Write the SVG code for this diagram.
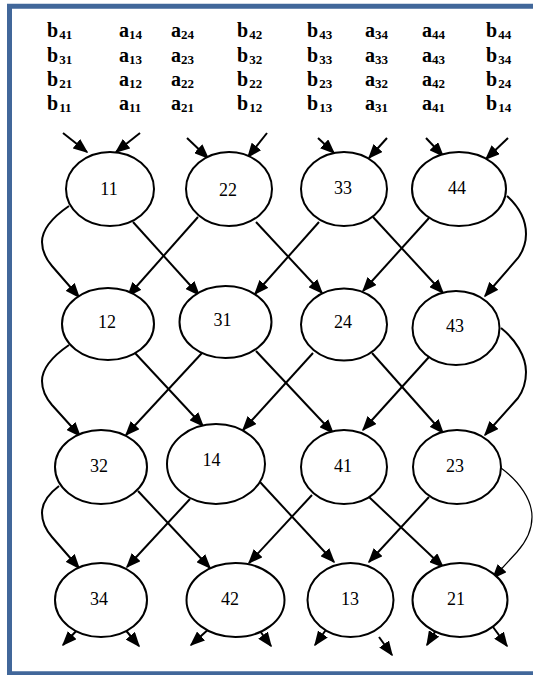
<svg xmlns="http://www.w3.org/2000/svg" width="533" height="675" viewBox="0 0 533 675">
<style>
.frame{fill:none;stroke:#41679a;stroke-width:5}
.lbl{font-weight:bold;font-size:20px;fill:#000}
.sub{font-size:13px}
.node ellipse{fill:#fff;stroke:#000;stroke-width:2}
.node text{font-size:18px;fill:#000;text-anchor:middle}
.edge{fill:none;stroke:#000;stroke-width:2;marker-end:url(#ah)}
.thin{stroke-width:1.2}
</style>
<defs>
<marker id="ah" markerUnits="userSpaceOnUse" markerWidth="15" markerHeight="12" viewBox="0 0 15 12" refX="13.5" refY="6" orient="auto">
<path d="M0,0 L15,6 L0,12 z" fill="#000"/>
</marker>
</defs>
<rect class="frame" x="9.5" y="6.25" width="620" height="667.5"/>
<g id="labels" font-family="'Liberation Serif', 'Times New Roman', Times, 'DejaVu Serif', serif">
<text class="lbl" x="47" y="37">b<tspan class="sub" dx="1" dy="2">41</tspan></text>
<text class="lbl" x="119" y="37">a<tspan class="sub" dy="2">14</tspan></text>
<text class="lbl" x="171" y="37">a<tspan class="sub" dy="2">24</tspan></text>
<text class="lbl" x="237" y="37">b<tspan class="sub" dx="1" dy="2">42</tspan></text>
<text class="lbl" x="307" y="37">b<tspan class="sub" dx="1" dy="2">43</tspan></text>
<text class="lbl" x="365" y="37">a<tspan class="sub" dy="2">34</tspan></text>
<text class="lbl" x="422" y="37">a<tspan class="sub" dy="2">44</tspan></text>
<text class="lbl" x="486" y="37">b<tspan class="sub" dx="1" dy="2">44</tspan></text>

<text class="lbl" x="47" y="62">b<tspan class="sub" dx="1" dy="2">31</tspan></text>
<text class="lbl" x="119" y="62">a<tspan class="sub" dy="2">13</tspan></text>
<text class="lbl" x="171" y="62">a<tspan class="sub" dy="2">23</tspan></text>
<text class="lbl" x="237" y="62">b<tspan class="sub" dx="1" dy="2">32</tspan></text>
<text class="lbl" x="307" y="62">b<tspan class="sub" dx="1" dy="2">33</tspan></text>
<text class="lbl" x="365" y="62">a<tspan class="sub" dy="2">33</tspan></text>
<text class="lbl" x="422" y="62">a<tspan class="sub" dy="2">43</tspan></text>
<text class="lbl" x="486" y="62">b<tspan class="sub" dx="1" dy="2">34</tspan></text>

<text class="lbl" x="47" y="86">b<tspan class="sub" dx="1" dy="2">21</tspan></text>
<text class="lbl" x="119" y="86">a<tspan class="sub" dy="2">12</tspan></text>
<text class="lbl" x="171" y="86">a<tspan class="sub" dy="2">22</tspan></text>
<text class="lbl" x="237" y="86">b<tspan class="sub" dx="1" dy="2">22</tspan></text>
<text class="lbl" x="307" y="86">b<tspan class="sub" dx="1" dy="2">23</tspan></text>
<text class="lbl" x="365" y="86">a<tspan class="sub" dy="2">32</tspan></text>
<text class="lbl" x="422" y="86">a<tspan class="sub" dy="2">42</tspan></text>
<text class="lbl" x="486" y="86">b<tspan class="sub" dx="1" dy="2">24</tspan></text>

<text class="lbl" x="47" y="110">b<tspan class="sub" dx="1" dy="2">11</tspan></text>
<text class="lbl" x="119" y="110">a<tspan class="sub" dy="2">11</tspan></text>
<text class="lbl" x="171" y="110">a<tspan class="sub" dy="2">21</tspan></text>
<text class="lbl" x="237" y="110">b<tspan class="sub" dx="1" dy="2">12</tspan></text>
<text class="lbl" x="307" y="110">b<tspan class="sub" dx="1" dy="2">13</tspan></text>
<text class="lbl" x="365" y="110">a<tspan class="sub" dy="2">31</tspan></text>
<text class="lbl" x="422" y="110">a<tspan class="sub" dy="2">41</tspan></text>
<text class="lbl" x="486" y="110">b<tspan class="sub" dx="1" dy="2">14</tspan></text>
</g>
<g id="connectors">
<line class="edge" x1="63" y1="133" x2="87" y2="152"/>
<line class="edge" x1="140" y1="133" x2="116" y2="152"/>
<line class="edge" x1="187" y1="138" x2="208" y2="158"/>
<line class="edge" x1="267" y1="133" x2="248" y2="157"/>
<line class="edge" x1="318" y1="138" x2="334" y2="153"/>
<line class="edge" x1="387" y1="138" x2="369" y2="158"/>
<line class="edge" x1="426" y1="138" x2="443" y2="156"/>
<line class="edge" x1="508" y1="138" x2="486" y2="159"/>
<path class="edge" d="M69,206 C50,219 42,230 42,242 C42,252 46,259 52,266 L79,297"/>
<line class="edge" x1="133" y1="222" x2="199" y2="295"/>
<line class="edge" x1="198" y1="217" x2="128" y2="296"/>
<line class="edge" x1="256" y1="222" x2="322" y2="293"/>
<line class="edge" x1="319" y1="222" x2="255" y2="294"/>
<line class="edge" x1="373" y1="217" x2="443" y2="293"/>
<line class="edge" x1="429" y1="218" x2="363" y2="291"/>
<path class="edge" d="M507,196 C518,206 526,219 526,234 C526,244 523,251 518,258 L485,296"/>
<path class="edge" d="M69,345 C50,358 42,369 42,381 C42,391 46,398 52,405 L80,436"/>
<line class="edge" x1="135" y1="353" x2="203" y2="426"/>
<line class="edge" x1="202" y1="353" x2="126" y2="435"/>
<line class="edge" x1="256" y1="351" x2="333" y2="433"/>
<line class="edge" x1="313" y1="353" x2="243" y2="430"/>
<line class="edge" x1="372" y1="353" x2="443" y2="433"/>
<line class="edge" x1="429" y1="357" x2="363" y2="430"/>
<path class="edge" d="M501,328 C515,339 526,356 526,372 C526,384 523,391 518,398 L485,435"/>
<path class="edge" d="M59,486 C47,495 42,503 42,513 C42,523 46,530 52,537 L79,568"/>
<line class="edge" x1="138" y1="491" x2="210" y2="568"/>
<line class="edge" x1="190" y1="499" x2="127" y2="567"/>
<line class="edge" x1="260" y1="482" x2="334" y2="562"/>
<line class="edge" x1="312" y1="495" x2="249" y2="563"/>
<line class="edge" x1="369" y1="497" x2="443" y2="567"/>
<line class="edge" x1="429" y1="497" x2="369" y2="562"/>
<path class="edge thin" d="M501,468 C520,482 532,500 532,517 C532,532 525,543 517,552 L493,578"/>
<line class="edge" x1="80" y1="627" x2="63" y2="645"/>
<line class="edge" x1="123" y1="627" x2="139" y2="646"/>
<line class="edge" x1="211" y1="627" x2="191" y2="645"/>
<line class="edge" x1="257" y1="627" x2="271" y2="646"/>
<line class="edge" x1="328" y1="627" x2="315" y2="645"/>
<line class="edge" x1="379" y1="637" x2="392" y2="655"/>
<line class="edge" x1="438" y1="627" x2="427" y2="645"/>
<line class="edge" x1="493" y1="627" x2="507" y2="646"/>
</g>
<g id="nodes" font-family="'Liberation Serif', 'Times New Roman', Times, 'DejaVu Serif', serif">
<g id="n11" class="node"><ellipse cx="110" cy="189" rx="44" ry="37"/><text x="109" y="194.5">11</text></g>
<g id="n22" class="node"><ellipse cx="229" cy="189" rx="43" ry="37"/><text x="228" y="196">22</text></g>
<g id="n33" class="node"><ellipse cx="344" cy="189" rx="43" ry="37"/><text x="343" y="194">33</text></g>
<g id="n44" class="node"><ellipse cx="459" cy="189" rx="47" ry="37"/><text x="457" y="194">44</text></g>
<g id="n12" class="node"><ellipse cx="108" cy="324" rx="46" ry="36"/><text x="107" y="328">12</text></g>
<g id="n31" class="node"><ellipse cx="225.5" cy="322" rx="46" ry="36"/><text x="222.5" y="325.5">31</text></g>
<g id="n24" class="node"><ellipse cx="344" cy="324.5" rx="43" ry="36"/><text x="343" y="328">24</text></g>
<g id="n43" class="node"><ellipse cx="456" cy="328" rx="43.5" ry="37"/><text x="455" y="332">43</text></g>
<g id="n32" class="node"><ellipse cx="101" cy="467" rx="46" ry="37"/><text x="99" y="472">32</text></g>
<g id="n14" class="node"><ellipse cx="216" cy="464" rx="49" ry="40"/><text x="211.5" y="465.5">14</text></g>
<g id="n41" class="node"><ellipse cx="344" cy="467" rx="43" ry="37"/><text x="343" y="472">41</text></g>
<g id="n23" class="node"><ellipse cx="457" cy="467" rx="44" ry="37"/><text x="455" y="472">23</text></g>
<g id="n34" class="node"><ellipse cx="101" cy="600" rx="46" ry="37"/><text x="99" y="604.5">34</text></g>
<g id="n42" class="node"><ellipse cx="235.5" cy="600" rx="49" ry="37"/><text x="230" y="604.5">42</text></g>
<g id="n13" class="node"><ellipse cx="350.5" cy="600" rx="43" ry="37"/><text x="350" y="604.5">13</text></g>
<g id="n21" class="node"><ellipse cx="460" cy="600" rx="47.5" ry="37"/><text x="456" y="604.5">21</text></g>
</g>
</svg>
